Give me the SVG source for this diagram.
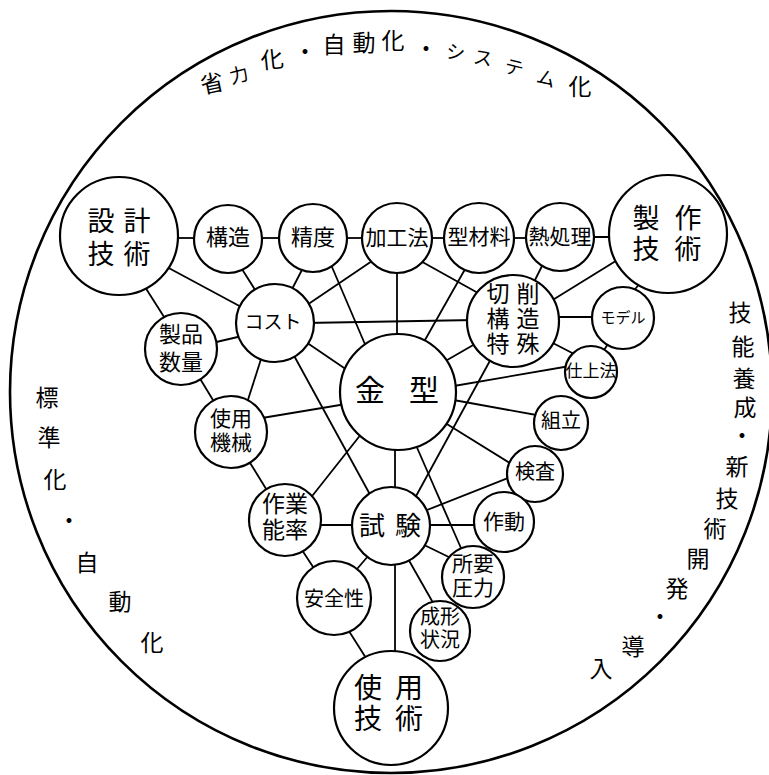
<svg xmlns="http://www.w3.org/2000/svg" width="769" height="775" viewBox="0 0 769 775">
<style>
.n circle{fill:#fff;stroke:#000;stroke-width:2.2}
text{font-family:"Liberation Sans","Noto Sans CJK JP","Noto Sans CJK SC",sans-serif;text-anchor:middle;dominant-baseline:central;fill:#000}
#edges line{stroke:#000;stroke-width:1.8}
.o{font-size:23px}
.k{font-size:19px}
</style>
<rect width="769" height="775" fill="#fff"/>
<circle cx="391" cy="392" r="381" fill="none" stroke="#000" stroke-width="2.6"/>
<g id="outer-text">
<text class="o"><tspan x="214" y="86" rotate="-12">省</tspan><tspan class="k" x="241" y="77" rotate="-15">力</tspan><tspan x="273" y="61" rotate="-6">化</tspan><tspan x="305" y="52">・</tspan><tspan x="334" y="45">自</tspan><tspan x="364" y="43">動</tspan><tspan x="393" y="41">化</tspan><tspan x="426" y="49">・</tspan><tspan class="k" x="455" y="51" rotate="6">シ</tspan><tspan class="k" x="482" y="56" rotate="10">ス</tspan><tspan class="k" x="513" y="65" rotate="14">テ</tspan><tspan class="k" x="545" y="75" rotate="18">ム</tspan><tspan x="580" y="87">化</tspan></text>
<text class="o"><tspan x="47" y="398">標</tspan><tspan x="49" y="438">準</tspan><tspan x="55" y="480">化</tspan><tspan x="69" y="521">・</tspan><tspan x="87" y="563">自</tspan><tspan x="120" y="602">動</tspan><tspan x="152" y="643">化</tspan></text>
<text class="o"><tspan x="740" y="313">技</tspan><tspan x="743" y="347">能</tspan><tspan x="744" y="379">養</tspan><tspan x="745" y="408">成</tspan><tspan x="742" y="436">・</tspan><tspan x="737" y="467">新</tspan><tspan x="727" y="499">技</tspan><tspan x="715" y="529">術</tspan><tspan x="698" y="559">開</tspan><tspan x="677" y="589">発</tspan><tspan x="660" y="617">・</tspan><tspan x="633" y="647">導</tspan><tspan x="601" y="669">入</tspan></text>
</g>
<g id="edges">
<line x1="170" y1="238" x2="200" y2="238"/>
<line x1="255" y1="238" x2="285" y2="238"/>
<line x1="340" y1="238" x2="370" y2="238"/>
<line x1="425" y1="238" x2="452" y2="238"/>
<line x1="505" y1="238" x2="535" y2="238"/>
<line x1="585" y1="237" x2="620" y2="237"/>
<line x1="165" y1="266" x2="245" y2="309"/>
<line x1="145" y1="287" x2="166" y2="320"/>
<line x1="240" y1="266" x2="259" y2="296"/>
<line x1="305" y1="264" x2="289" y2="295"/>
<line x1="375" y1="259" x2="304" y2="307"/>
<line x1="329" y1="260" x2="367" y2="349"/>
<line x1="397" y1="265" x2="397" y2="340"/>
<line x1="305" y1="323" x2="475" y2="320"/>
<line x1="212" y1="343" x2="242" y2="336"/>
<line x1="300" y1="338" x2="350" y2="372"/>
<line x1="262" y1="356" x2="246" y2="406"/>
<line x1="292" y1="352" x2="373" y2="500"/>
<line x1="199" y1="377" x2="216" y2="405"/>
<line x1="262" y1="418" x2="346" y2="404"/>
<line x1="417" y1="259" x2="478" y2="293"/>
<line x1="468" y1="264" x2="421" y2="347"/>
<line x1="545" y1="260" x2="532" y2="286"/>
<line x1="619" y1="259" x2="551" y2="301"/>
<line x1="641" y1="282" x2="631" y2="294"/>
<line x1="552" y1="317" x2="600" y2="317"/>
<line x1="547" y1="340" x2="578" y2="356"/>
<line x1="610" y1="341" x2="600" y2="356"/>
<line x1="475" y1="344" x2="442" y2="363"/>
<line x1="492" y1="357" x2="415" y2="498"/>
<line x1="448" y1="387" x2="570" y2="366"/>
<line x1="448" y1="399" x2="542" y2="416"/>
<line x1="442" y1="421" x2="513" y2="465"/>
<line x1="247" y1="458" x2="268" y2="492"/>
<line x1="362" y1="433" x2="309" y2="500"/>
<line x1="395" y1="440" x2="395" y2="495"/>
<line x1="415" y1="443" x2="464" y2="555"/>
<line x1="422" y1="512" x2="513" y2="476"/>
<line x1="425" y1="525" x2="480" y2="525"/>
<line x1="420" y1="543" x2="455" y2="560"/>
<line x1="407" y1="557" x2="436" y2="608"/>
<line x1="369" y1="555" x2="351" y2="576"/>
<line x1="315" y1="525" x2="357" y2="525"/>
<line x1="395" y1="560" x2="395" y2="658"/>
<line x1="300" y1="547" x2="317" y2="573"/>
<line x1="347" y1="628" x2="366" y2="658"/>
</g>
<g id="n-sekkei" class="n"><circle cx="119" cy="236" r="59"/>
<text font-size="27"><tspan x="101" y="222">設</tspan><tspan x="137" y="222">計</tspan><tspan x="101" y="255">技</tspan><tspan x="137" y="255">術</tspan></text></g>
<g id="n-kouzou" class="n"><circle cx="228" cy="239" r="34"/><text x="228" y="237" font-size="22">構造</text></g>
<g id="n-seido" class="n"><circle cx="313" cy="238" r="34"/><text x="313" y="237" font-size="22">精度</text></g>
<g id="n-kakouhou" class="n"><circle cx="397" cy="238" r="35"/><text x="397" y="237" font-size="21">加工法</text></g>
<g id="n-katazairyou" class="n"><circle cx="479" cy="238" r="35"/><text x="479" y="236" font-size="21">型材料</text></g>
<g id="n-netsushori" class="n"><circle cx="560" cy="237" r="34"/><text x="560" y="236" font-size="21">熱処理</text></g>
<g id="n-seisaku" class="n"><circle cx="668" cy="234" r="59"/>
<text font-size="27"><tspan x="646" y="219">製</tspan><tspan x="688" y="219">作</tspan><tspan x="646" y="250">技</tspan><tspan x="688" y="250">術</tspan></text></g>
<g id="n-cost" class="n"><circle cx="275" cy="323" r="39"/><text x="273" y="322" font-size="19">コスト</text></g>
<g id="n-seihinsuuryou" class="n"><circle cx="181" cy="349" r="36"/>
<text font-size="22"><tspan x="181" y="334">製品</tspan><tspan x="181" y="362">数量</tspan></text></g>
<g id="n-sessaku" class="n"><circle cx="513" cy="321" r="46"/>
<text font-size="23"><tspan x="498" y="294">切</tspan><tspan x="528" y="294">削</tspan><tspan x="498" y="319">構</tspan><tspan x="528" y="319">造</tspan><tspan x="498" y="344">特</tspan><tspan x="528" y="344">殊</tspan></text></g>
<g id="n-model" class="n"><circle cx="623" cy="318" r="31"/><text x="623" y="317" font-size="15">モデル</text></g>
<g id="n-shiagehou" class="n"><circle cx="591" cy="372" r="26"/><text x="591" y="371" font-size="17">仕上法</text></g>
<g id="n-kumitate" class="n"><circle cx="561" cy="423" r="27"/><text x="561" y="421" font-size="20">組立</text></g>
<g id="n-kensa" class="n"><circle cx="535" cy="474" r="28"/><text x="535" y="472" font-size="20">検査</text></g>
<g id="n-kanagata" class="n"><circle cx="398" cy="392" r="58"/>
<text font-size="30"><tspan x="370" y="390">金</tspan><tspan x="424" y="390">型</tspan></text></g>
<g id="n-shiyoukikai" class="n"><circle cx="231" cy="432" r="36"/>
<text font-size="21"><tspan x="231" y="418">使用</tspan><tspan x="231" y="442">機械</tspan></text></g>
<g id="n-sagyounouritsu" class="n"><circle cx="285" cy="520" r="36"/>
<text font-size="23"><tspan x="285" y="504">作業</tspan><tspan x="285" y="530">能率</tspan></text></g>
<g id="n-shiken" class="n"><circle cx="391" cy="526" r="39"/>
<text font-size="26"><tspan x="372" y="526">試</tspan><tspan x="408" y="526">験</tspan></text></g>
<g id="n-sadou" class="n"><circle cx="504" cy="522" r="30"/><text x="504" y="521" font-size="21">作動</text></g>
<g id="n-shoyouatsuryoku" class="n"><circle cx="473" cy="577" r="31"/>
<text font-size="21"><tspan x="473" y="563">所要</tspan><tspan x="473" y="587">圧力</tspan></text></g>
<g id="n-seikeijoukyou" class="n"><circle cx="440" cy="631" r="30"/>
<text font-size="20"><tspan x="440" y="617">成形</tspan><tspan x="440" y="640">状況</tspan></text></g>
<g id="n-anzensei" class="n"><circle cx="334" cy="598" r="37"/><text x="334" y="599" font-size="20">安全性</text></g>
<g id="n-shiyougijutsu" class="n"><circle cx="391" cy="708" r="57"/>
<text font-size="28"><tspan x="368" y="688">使</tspan><tspan x="409" y="688">用</tspan><tspan x="368" y="719">技</tspan><tspan x="409" y="719">術</tspan></text></g>
</svg>
